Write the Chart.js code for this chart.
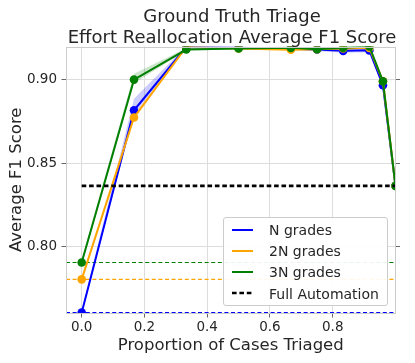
<!DOCTYPE html>
<html><head><meta charset="utf-8">
<script src="https://cdn.jsdelivr.net/npm/chart.js@4"></script>
<style>
html,body{margin:0;padding:0;background:#fff;}
#wrap{position:relative;width:415px;height:363px;font-family:'DejaVu Sans',sans-serif;color:#262626;overflow:hidden;}
#c{position:absolute;left:0;top:0;}
#title{position:absolute;left:67px;width:330px;top:6px;text-align:center;font-size:18px;line-height:20.7px;white-space:nowrap;}
#legendBox{position:absolute;left:222.5px;top:217px;width:165.5px;height:89px;border:1px solid #cccccc;border-radius:3px;background:rgba(255,255,255,0.92);box-sizing:border-box;}
.lg{position:absolute;font-size:14px;line-height:14px;white-space:nowrap;}
.hd{position:absolute;}
</style>
</head><body>
<div id="wrap">
<canvas id="c" width="415" height="363"></canvas>
<div id="title"></div>
<div id="legendBox"></div>
<div id="legendItems"></div>
</div>
<script>
// ---- data ----
const titleLines = ['Ground Truth Triage', 'Effort Reallocation Average F1 Score'];
const xLabel = 'Proportion of Cases Triaged';
const yLabel = 'Average F1 Score';
const seriesNames = ['N grades', '2N grades', '3N grades', 'Full Automation'];
const xTicks = [0.0, 0.2, 0.4, 0.6, 0.8];
const yTicks = [0.80, 0.85, 0.90];
const xRange = [-0.05, 1.0];
const yRange = [0.7605, 0.9198];

const proportion = [0, 1/6, 1/3, 1/2, 2/3, 3/4, 5/6, 11/12, 0.96, 1];

const nGrades      = [0.7607, 0.8817, 0.9195, 0.9190, 0.9185, 0.9180, 0.9172, 0.9175, 0.8966, 0.8365];
const nGradesLow   = [0.7600, 0.8790, 0.9188, 0.9183, 0.9178, 0.9170, 0.9160, 0.9163, 0.8955, 0.8365];
const nGradesHigh  = [0.7625, 0.8885, 0.9200, 0.9196, 0.9192, 0.9188, 0.9182, 0.9185, 0.8975, 0.8365];

const twoNGrades     = [0.7806, 0.8774, 0.9195, 0.9186, 0.9179, 0.9182, 0.9186, 0.9190, 0.8990, 0.8365];
const twoNGradesLow  = [0.7790, 0.8758, 0.9190, 0.9180, 0.9172, 0.9176, 0.9180, 0.9184, 0.8982, 0.8365];
const twoNGradesHigh = [0.7822, 0.8790, 0.9200, 0.9192, 0.9186, 0.9188, 0.9192, 0.9196, 0.8998, 0.8365];

const threeNGrades     = [0.7907, 0.9000, 0.9180, 0.9186, 0.9190, 0.9182, 0.9190, 0.9198, 0.8990, 0.8365];
const threeNGradesLow  = [0.7890, 0.8978, 0.9174, 0.9180, 0.9185, 0.9176, 0.9185, 0.9193, 0.8980, 0.8365];
const threeNGradesHigh = [0.7925, 0.9035, 0.9188, 0.9192, 0.9196, 0.9188, 0.9196, 0.9203, 0.9000, 0.8365];

const fullAutomation = 0.8365;
const baselineN = 0.7607, baseline2N = 0.7806, baseline3N = 0.7907;

// ---- styles ----
const BLUE = '#0000ff', ORANGE = '#ffa500', GREEN = '#008000';
const FONT = "'DejaVu Sans', sans-serif";
const TXT = '#262626';

document.getElementById('title').innerHTML = titleLines.join('<br>');

const pts = (ys) => proportion.map((x, i) => ({x, y: ys[i]}));
const band = (ys, order, fillTarget, color) => ({
  data: pts(ys), borderWidth: 0, pointRadius: 0, borderColor: 'rgba(0,0,0,0)',
  backgroundColor: color, fill: fillTarget, order, tension: 0, clip: 0
});
const line = (ys, color, order) => ({
  data: pts(ys), borderColor: color, backgroundColor: color, borderWidth: 2,
  pointRadius: 4.3, pointBackgroundColor: color, pointBorderWidth: 0, pointHoverRadius: 4.3,
  fill: false, order, tension: 0, clip: 0
});
const hline = (y, x0, x1, color, width, dash, order) => ({
  data: [{x: x0, y}, {x: x1, y}], borderColor: color, borderWidth: width, borderDash: dash,
  pointRadius: 0, fill: false, order, clip: 0
});

const datasets = [
  band(nGradesLow, 9, false, 'rgba(0,0,255,0.2)'),            // 0
  band(nGradesHigh, 9, 0, 'rgba(0,0,255,0.2)'),               // 1
  band(twoNGradesLow, 8, false, 'rgba(255,165,0,0.2)'),       // 2
  band(twoNGradesHigh, 8, 2, 'rgba(255,165,0,0.2)'),          // 3
  band(threeNGradesLow, 7, false, 'rgba(0,128,0,0.2)'),       // 4
  band(threeNGradesHigh, 7, 4, 'rgba(0,128,0,0.2)'),          // 5
  line(nGrades, BLUE, 4),
  line(twoNGrades, ORANGE, 3),
  line(threeNGrades, GREEN, 2),
  hline(baselineN, xRange[0], xRange[1], BLUE, 1.2, [4, 2.6], 10),
  hline(baseline2N, xRange[0], xRange[1], ORANGE, 1.2, [4, 2.6], 10),
  hline(baseline3N, xRange[0], xRange[1], GREEN, 1.2, [4, 2.6], 10),
  hline(fullAutomation, 0, 1, '#000000', 2.7, [4.6, 2.8], 1)
];

const frame = {
  id: 'frame',
  afterDatasetsDraw(chart) {
    const a = chart.chartArea, ctx = chart.ctx;
    ctx.save();
    ctx.strokeStyle = '#cccccc';
    ctx.lineWidth = 1;
    ctx.strokeRect(Math.round(a.left) + 0.5, Math.round(a.top) + 0.5, Math.round(a.right - a.left) - 1, Math.round(a.bottom - a.top) - 1);
    ctx.restore();
  }
};

const gridColor = '#dddddd', tickColor = '#666666';

new Chart(document.getElementById('c'), {
  type: 'line',
  data: { datasets },
  plugins: [frame],
  options: {
    responsive: false, animation: false, devicePixelRatio: 1,
    layout: { padding: { top: 46.5, right: 14.5, left: 0, bottom: 0 } },
    plugins: { legend: { display: false }, tooltip: { enabled: false }, title: { display: false } },
    scales: {
      x: {
        type: 'linear', min: xRange[0], max: xRange[1],
        afterBuildTicks: s => { s.ticks = xTicks.map(v => ({value: v})); },
        afterFit: s => { s.height = 50; },
        ticks: { callback: v => Number(v).toFixed(1), font: { family: FONT, size: 13.5 }, color: TXT, padding: 1.5, autoSkip: false, maxRotation: 0 },
        grid: { color: gridColor, tickColor, tickLength: 4.5, lineWidth: 1 },
        border: { display: false },
        title: { display: true, text: xLabel, font: { family: FONT, size: 16.5 }, color: TXT, padding: { top: 0, bottom: 7.5 } }
      },
      y: {
        type: 'linear', min: yRange[0], max: yRange[1],
        afterBuildTicks: s => { s.ticks = yTicks.map(v => ({value: v})); },
        afterFit: s => { s.width = 66; },
        ticks: { callback: v => Number(v).toFixed(2), font: { family: FONT, size: 13.5 }, color: TXT, padding: 4.5, autoSkip: false },
        grid: { color: gridColor, tickColor, tickLength: 4.5, lineWidth: 1 },
        border: { display: false },
        title: { display: true, text: yLabel, font: { family: FONT, size: 16.5 }, color: TXT, padding: { top: 6.5, bottom: 0 } }
      },
      y2: {
        type: 'linear', position: 'right', min: yRange[0], max: yRange[1],
        afterBuildTicks: s => { s.ticks = yTicks.map(v => ({value: v})); },
        afterFit: s => { s.width = 5; },
        ticks: { callback: () => '', padding: 0, font: { size: 1 } },
        grid: { drawOnChartArea: false, tickColor, tickLength: 4.5 },
        border: { display: false }
      }
    }
  }
});

// ---- legend (HTML overlay) ----
const legendColors = [BLUE, ORANGE, GREEN, '#000000'];
const rowY = [230, 250.9, 272, 293.3];
let html = '';
seriesNames.forEach((name, i) => {
  const cy = rowY[i];
  const dashed = i === 3;
  html += `<svg class="hd" style="left:232px;top:${cy-3}px" width="22" height="6"><line x1="0" y1="3" x2="21" y2="3" stroke="${legendColors[i]}" stroke-width="${dashed ? 2.7 : 2}" ${dashed ? 'stroke-dasharray="4.6 2.8"' : ''}/></svg>`;
  html += `<div class="lg" style="left:269px;top:${cy - 6.8}px">${name}</div>`;
});
document.getElementById('legendItems').innerHTML = html;
</script>
</body></html>
